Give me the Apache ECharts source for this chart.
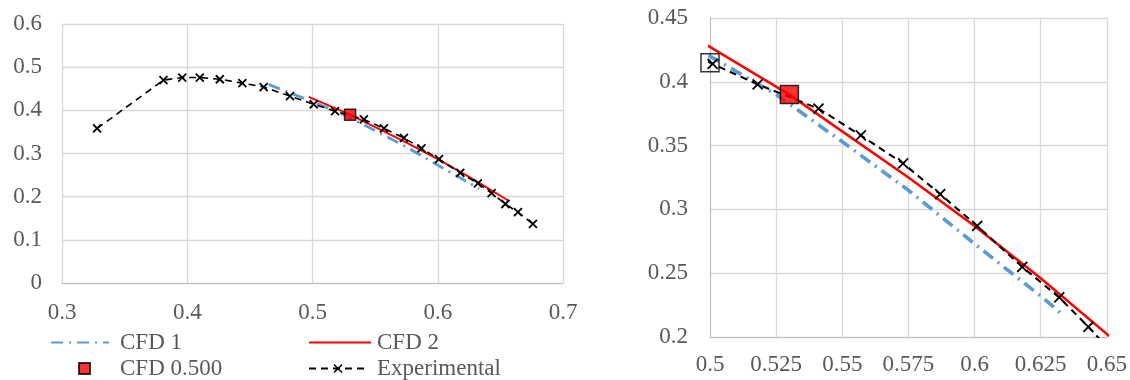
<!DOCTYPE html>
<html>
<head>
<meta charset="utf-8">
<script src="https://cdn.jsdelivr.net/npm/echarts@6/dist/echarts.min.js"></script>
<style>
  html, body { margin: 0; padding: 0; background: #fff; }
  #chart { width: 1130px; height: 380px; }
</style>
</head>
<body>
<div id="chart"></div>
<script>
// experimental points [x, y]
const expData = [
  [0.328, 0.358], [0.381, 0.470], [0.396, 0.476], [0.410, 0.476], [0.426, 0.472],
  [0.444, 0.463], [0.461, 0.454], [0.482, 0.433], [0.501, 0.414], [0.518, 0.398],
  [0.541, 0.379], [0.557, 0.358], [0.573, 0.336], [0.587, 0.312], [0.601, 0.287],
  [0.618, 0.255], [0.632, 0.231], [0.643, 0.208], [0.654, 0.183], [0.664, 0.164],
  [0.676, 0.137]
];
const cfd1Data = [
  [0.465, 0.460], [0.500, 0.420], [0.525, 0.390], [0.550, 0.353], [0.575, 0.315],
  [0.600, 0.273], [0.625, 0.232], [0.633, 0.218]
];
const cfd2Data = [
  [0.497, 0.431], [0.530, 0.390], [0.575, 0.325], [0.600, 0.287], [0.625, 0.246],
  [0.657, 0.190]
];
const cfd500Data = [[0.530, 0.390]];
const openSquareData = [[0.500, 0.415]];

const leftX = { min: 0.3, max: 0.7, interval: 0.1 };
const leftY = { min: 0, max: 0.6, interval: 0.1 };
const rightX = { min: 0.5, max: 0.65, interval: 0.025 };
const rightY = { min: 0.2, max: 0.45, interval: 0.05 };

const FONT = '"Liberation Serif", "Times New Roman", serif';
const GRID_C = '#d9d9d9';
const TXT_C = '#595959';
const crossPath = 'path://M0,0L10,10M10,0L0,10';

const chart = echarts.init(document.getElementById('chart'));

function xAxis(r, idx) {
  return {
    type: 'value', gridIndex: idx, min: r.min, max: r.max, interval: r.interval,
    axisLine: { show: true, lineStyle: { color: '#bfbfbf', width: 1 } },
    axisTick: { show: false },
    splitLine: { show: true, lineStyle: { color: GRID_C, width: 1.3 } },
    axisLabel: { color: TXT_C, fontFamily: FONT, fontSize: 23, margin: idx === 0 ? 18 : 16 }
  };
}
function yAxis(r, idx) {
  return {
    type: 'value', gridIndex: idx, min: r.min, max: r.max, interval: r.interval,
    axisLine: { show: idx === 1, lineStyle: { color: '#bfbfbf', width: 1 } },
    axisTick: { show: false },
    splitLine: { show: true, lineStyle: { color: GRID_C, width: 1.3 } },
    axisLabel: { color: TXT_C, fontFamily: FONT, fontSize: 23, margin: idx === 0 ? 20 : 22 }
  };
}

function seriesFor(idx, big) {
  const s = idx === 1 ? 1.3 : 1;
  const list = [
    {
      name: 'CFD 1', type: 'line', xAxisIndex: idx, yAxisIndex: idx,
      data: cfd1Data, showSymbol: false, symbol: 'none',
      lineStyle: { color: '#5b9bd5', width: 2.8 * s, type: [12, 6, 2, 6] },
      itemStyle: { color: '#5b9bd5' }, z: 2
    },
    {
      name: 'CFD 2', type: 'line', xAxisIndex: idx, yAxisIndex: idx,
      data: cfd2Data, showSymbol: false, symbol: 'none',
      lineStyle: { color: '#ff0000', width: 2 * s },
      itemStyle: { color: '#ff0000' }, z: 3
    },
    {
      name: 'Experimental', type: 'line', xAxisIndex: idx, yAxisIndex: idx,
      data: expData, symbol: crossPath, symbolSize: big ? 10 : 8,
      lineStyle: { color: '#000', width: 1.6 * s, type: [7, 5] },
      itemStyle: { color: 'none', borderColor: '#000', borderWidth: 1.8 }, z: 4
    },
    {
      name: 'CFD 0.500', type: 'scatter', xAxisIndex: idx, yAxisIndex: idx,
      data: cfd500Data, symbol: 'rect', symbolSize: big ? 18 : 11,
      itemStyle: { color: '#ff0000', borderColor: '#000', borderWidth: 1.5 }, z: 5
    }
  ];
  if (big) {
    list.push({
      name: 'open', type: 'scatter', xAxisIndex: idx, yAxisIndex: idx,
      data: openSquareData, symbol: 'rect', symbolSize: 18, clip: false,
      itemStyle: { color: 'rgba(0,0,0,0)', borderColor: '#000', borderWidth: 1.5 }, z: 5
    });
  }
  return list;
}

function legendText(padLeft) {
  return { color: TXT_C, fontFamily: FONT, fontSize: 23, padding: [0, 0, 0, padLeft] };
}
const noSym = { color: 'rgba(0,0,0,0)', borderWidth: 0 };

chart.setOption({
  animation: false,
  backgroundColor: '#fff',
  grid: [
    { left: 62, top: 24, width: 501, height: 259 },
    { left: 710, top: 18, width: 397, height: 319 }
  ],
  xAxis: [xAxis(leftX, 0), xAxis(rightX, 1)],
  yAxis: [yAxis(leftY, 0), yAxis(rightY, 1)],
  legend: [
    { data: ['CFD 1'], left: 50, top: 331, padding: 0, itemWidth: 58, itemHeight: 12,
      itemStyle: noSym, textStyle: legendText(6) },
    { data: ['CFD 2'], left: 308, top: 331, padding: 0, itemWidth: 62, itemHeight: 12,
      itemStyle: noSym, textStyle: legendText(1) },
    { data: [{ name: 'CFD 0.500', icon: 'rect' }], left: 78, top: 357, padding: 0,
      itemWidth: 11, itemHeight: 11, textStyle: legendText(25) },
    { data: ['Experimental'], left: 308, top: 357, padding: 0, itemWidth: 58, itemHeight: 10,
      itemStyle: { borderWidth: 1.5 }, textStyle: legendText(5) }
  ],
  series: seriesFor(0, false).concat(seriesFor(1, true))
});
</script>
</body>
</html>
